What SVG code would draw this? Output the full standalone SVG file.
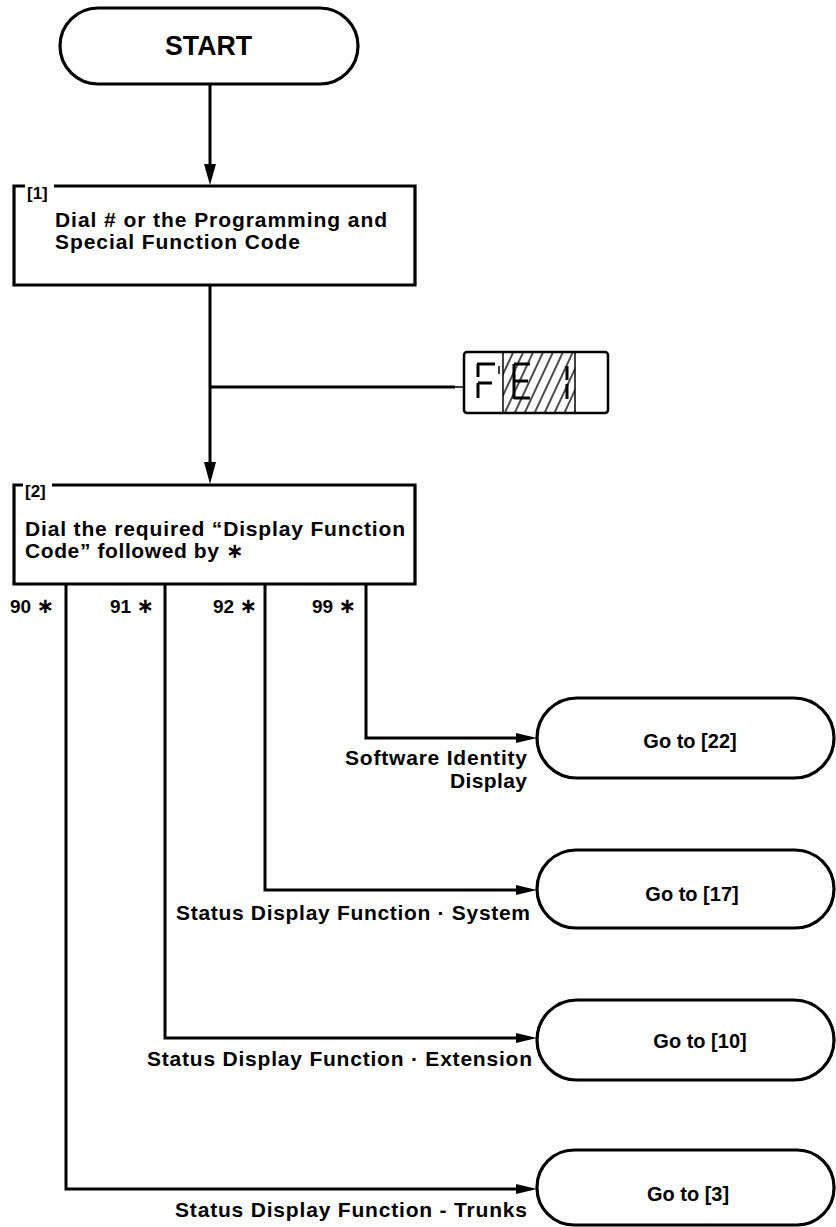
<svg xmlns="http://www.w3.org/2000/svg" width="836" height="1227" viewBox="0 0 836 1227">
<style>
text{font-family:"Liberation Sans",Arial,Helvetica,sans-serif;font-weight:bold;fill:#000}
.t20{font-size:21px}
.go{font-size:20px}
.lbl{font-size:17px}
.ast{font-family:"DejaVu Sans",sans-serif;font-size:21px}
.box{fill:none;stroke:#000;stroke-width:3.2;stroke-linejoin:miter}
.term{fill:#fff;stroke:#000;stroke-width:3.2}
.wire{fill:none;stroke:#000;stroke-width:3}
.seg{stroke:#000;stroke-width:3;stroke-linecap:butt}
</style>
<defs>
<pattern id="hatch" patternUnits="userSpaceOnUse" width="9" height="9" patternTransform="rotate(25)">
<line x1="2" y1="0" x2="2" y2="9" stroke="#000" stroke-width="1.4"/>
</pattern>
</defs>

<g id="start">
<rect class="term" x="60" y="8" width="298" height="76" rx="38" ry="38"/>
<text x="165" y="55" style="font-size:27px" textLength="87" lengthAdjust="spacingAndGlyphs">START</text>
</g>

<g id="step1">
<path class="box" d="M25 186 H14 V285 H415 V186 H54"/>
<text class="lbl" x="27" y="199">[1]</text>
<text class="t20" x="55" y="227" textLength="332" lengthAdjust="spacing">Dial # or the Programming and</text>
<text class="t20" x="55" y="249" textLength="245" lengthAdjust="spacing">Special Function Code</text>
</g>

<g id="display">
<rect x="464" y="352" width="144" height="61" rx="3" ry="3" fill="#fff" stroke="#000" stroke-width="2.5"/>
<rect x="503" y="353" width="72" height="59" fill="url(#hatch)"/>
<line x1="503" y1="352" x2="503" y2="413" stroke="#000" stroke-width="1.5"/>
<line x1="575" y1="352" x2="575" y2="413" stroke="#000" stroke-width="1.5"/>
<line class="seg" x1="477" y1="364" x2="495" y2="364"/>
<line class="seg" x1="478" y1="364" x2="478" y2="377"/>
<line x1="499" y1="366" x2="499" y2="374" stroke="#000" stroke-width="1.5"/>
<line class="seg" x1="478" y1="383" x2="492" y2="383"/>
<line class="seg" x1="478" y1="383" x2="478" y2="398"/>
<line class="seg" x1="514" y1="364" x2="530" y2="364"/>
<line class="seg" x1="514" y1="364" x2="514" y2="399"/>
<line class="seg" x1="514" y1="381" x2="528" y2="381"/>
<line class="seg" x1="514" y1="398" x2="530" y2="398"/>
<line class="seg" x1="567" y1="366" x2="567" y2="380"/>
<line class="seg" x1="567" y1="384" x2="567" y2="399"/>
</g>

<g id="step2">
<path class="box" d="M23 485 H14 V584 H415 V485 H52"/>
<text class="lbl" x="25" y="497">[2]</text>
<text class="t20" x="25" y="536" textLength="380" lengthAdjust="spacing">Dial the required “Display Function</text>
<text class="t20" x="25" y="558" style="letter-spacing:0.6px">Code” followed by <tspan class="ast">∗</tspan></text>
</g>

<g id="goto22">
<rect class="term" x="537" y="698" width="297" height="80" rx="40" ry="40"/>
<text class="go" x="690" y="748" text-anchor="middle">Go to [22]</text>
</g>
<g id="goto17">
<rect class="term" x="537" y="850" width="297" height="78" rx="39" ry="39"/>
<text class="go" x="692" y="901" text-anchor="middle">Go to [17]</text>
</g>
<g id="goto10">
<rect class="term" x="537" y="1000" width="297" height="80" rx="40" ry="40"/>
<text class="go" x="700" y="1048" text-anchor="middle">Go to [10]</text>
</g>
<g id="goto3">
<rect class="term" x="537" y="1150" width="297" height="75" rx="37" ry="37"/>
<text class="go" x="688" y="1201" text-anchor="middle">Go to [3]</text>
</g>

<g id="connectors">
<line class="wire" x1="210" y1="84" x2="210" y2="168"/>
<polygon points="204,164 216,164 210,185"/>
<line class="wire" x1="210" y1="285" x2="210" y2="466"/>
<polygon points="204,462 216,462 210,484"/>
<line class="wire" x1="210" y1="387" x2="455" y2="387"/>
<line x1="455" y1="387" x2="464" y2="387" stroke="#000" stroke-width="1.5"/>

<path class="wire" d="M366 584 V738 H520"/>
<polygon points="516,733 537,738 516,743"/>
<path class="wire" d="M265 584 V890 H520"/>
<polygon points="516,885 537,890 516,895"/>
<path class="wire" d="M165 584 V1038 H520"/>
<polygon points="516,1033 537,1038 516,1043"/>
<path class="wire" d="M66 584 V1189 H520"/>
<polygon points="516,1184 537,1189 516,1194"/>
</g>

<g id="branch-labels">
<text style="font-size:19px" x="10" y="613">90 <tspan class="ast">∗</tspan></text>
<text style="font-size:19px" x="110" y="613">91 <tspan class="ast">∗</tspan></text>
<text style="font-size:19px" x="213" y="613">92 <tspan class="ast">∗</tspan></text>
<text style="font-size:19px" x="312" y="613">99 <tspan class="ast">∗</tspan></text>
<text class="t20" x="345" y="765" textLength="182" lengthAdjust="spacing">Software Identity</text>
<text class="t20" x="450" y="788" textLength="77" lengthAdjust="spacing">Display</text>
<text class="t20" x="176" y="920" textLength="354" lengthAdjust="spacing">Status Display Function · System</text>
<text class="t20" x="147" y="1066" textLength="385" lengthAdjust="spacing">Status Display Function · Extension</text>
<text class="t20" x="175" y="1217" textLength="352" lengthAdjust="spacing">Status Display Function - Trunks</text>
</g>
</svg>
